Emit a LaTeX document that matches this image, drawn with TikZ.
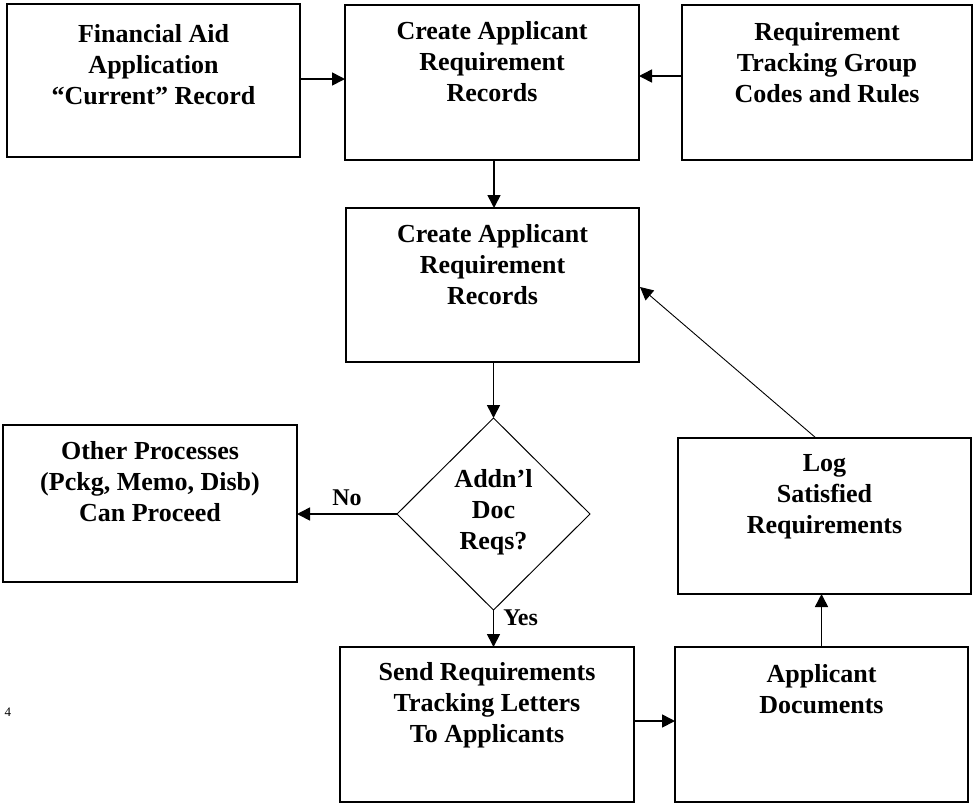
\documentclass[tikz,border=0pt]{standalone}
\usepackage{fontspec}
\setmainfont{Liberation Serif}
\usetikzlibrary{shapes.geometric,arrows.meta,calc}

\tikzset{
  box/.style={draw, line width=1.6pt, inner sep=0pt, outer sep=0pt, rectangle},
  decision/.style={draw, line width=1pt, diamond, inner sep=0pt, outer sep=0pt, aspect=1},
  label/.style={align=center, inner sep=0pt, font=\bfseries\fontsize{26}{31}\selectfont},
  tag/.style={inner sep=0pt, font=\bfseries\fontsize{24}{28}\selectfont},
  flow/.style={line width=1.6pt, -{Triangle[length=13pt,width=13pt]}},
  thinflow/.style={line width=0.9pt, -{Triangle[length=13pt,width=13pt]}}
}

\begin{document}
\begin{tikzpicture}[x=1pt, y=-1pt]
  \useasboundingbox (0,0) rectangle (973,804);

  % boxes
  \node[box, minimum width=293pt, minimum height=153pt] (A) at (153.5,80.5) {};
  \node[box, minimum width=294pt, minimum height=155pt] (B) at (492,82.5) {};
  \node[box, minimum width=290pt, minimum height=155pt] (C) at (827,82.5) {};
  \node[box, minimum width=293pt, minimum height=154pt] (D) at (492.5,285) {};
  \node[decision, minimum width=193pt, minimum height=192pt] (Q) at (493.5,514) {};
  \node[box, minimum width=294pt, minimum height=157pt] (E) at (150,503.5) {};
  \node[box, minimum width=293pt, minimum height=156pt] (F) at (824.5,516) {};
  \node[box, minimum width=294pt, minimum height=155pt] (G) at (487,724.5) {};
  \node[box, minimum width=293pt, minimum height=155pt] (H) at (821.5,724.5) {};

  % box texts
  \node[label, anchor=north] (tA) at (153.5,24) {Financial Aid\\Application\\“Current” Record};
  \node[label, anchor=north] (tB) at (492,21) {Create Applicant\\Requirement\\Records};
  \node[label, anchor=north] (tC) at (827,22) {Requirement\\Tracking Group\\Codes and Rules};
  \node[label, anchor=north] (tD) at (492.5,224) {Create Applicant\\Requirement\\Records};
  \node[label] (tQ) at (493.5,512) {Addn’l\\Doc\\Reqs?};
  \node[label, anchor=north] (tE) at (150,441) {Other Processes\\(Pckg, Memo, Disb)\\Can Proceed};
  \node[label, anchor=north] (tF) at (824.5,454) {Log\\Satisfied\\Requirements};
  \node[label, anchor=north] (tG) at (487,662) {Send Requirements\\Tracking Letters\\To Applicants};
  \node[label, anchor=north] (tH) at (821.5,664) {Applicant\\Documents};

  % page number
  \node[inner sep=0pt, font=\fontsize{13}{15}\selectfont] (pg) at (8,712) {4};

  % connectors
  \draw[flow] ($(A.east)+(0,-1.5)$) -- ($(A.east -| B.west)+(0,-1.5)$);
  \draw[flow] ($(C.west)+(0,-6.5)$) -- ($(C.west -| B.east)+(0,-6.5)$);
  \draw[flow] ($(B.south)+(2,0)$) -- ($(D.north)+(1.5,0)$);
  \draw[flow] (D.south -| Q.north) -- (Q.north);
  \draw[flow] (Q.west) -- (Q.west -| E.east) node[tag, pos=0.5, above=7pt] (no) {No};
  \draw[flow] (Q.south) -- (Q.south |- G.north) node[tag, pos=0.2, right=9pt] (yes) {Yes};
  \draw[flow] ($(G.east)+(0,-3.5)$) -- ($(G.east -| H.west)+(0,-3.5)$);
  \draw[flow] (H.north) -- (H.north |- F.south);
  \draw[thinflow] ($(F.north)+(-8.5,0)$) -- ($(D.east)+(1,2)$);
\end{tikzpicture}
\end{document}
